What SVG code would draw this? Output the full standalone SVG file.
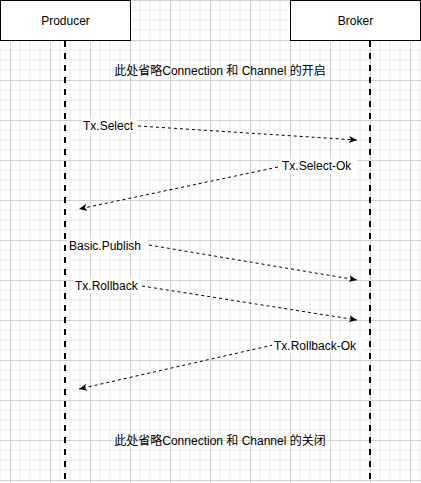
<svg xmlns="http://www.w3.org/2000/svg" width="421" height="483" viewBox="0 0 421 483">
  <style>
    text { font-family: "Liberation Sans", Arial, Helvetica, sans-serif; font-size: 12px; fill: #000; }
    .cjk { font-family: "Liberation Sans", "Noto Sans CJK SC", sans-serif; }
    .box { fill: #fff; stroke: #000; stroke-width: 1; }
    .life { stroke: #000; stroke-width: 2; stroke-dasharray: 6 6; fill: none; }
    .msg { stroke: #000; stroke-width: 1; stroke-dasharray: 3 3; fill: none; marker-end: url(#arrow); }
    .lblbg { fill: #fff; }
  </style>
  <defs>
    <pattern id="grid" patternUnits="userSpaceOnUse" x="10" y="0" width="40" height="40">
      <path d="M10 0V40M20 0V40M30 0V40M0 10H40M0 20H40M0 30H40" stroke="#ebebeb" stroke-width="1" fill="none"/>
      <path d="M0.5 0V40M0 0.5H40" stroke="#d0d0d0" stroke-width="1" fill="none"/>
    </pattern>
    <marker id="arrow" markerUnits="userSpaceOnUse" viewBox="0 0 8 8" refX="8" refY="4" markerWidth="8" markerHeight="8" orient="auto">
      <path d="M0 0.5L8 4L0 7.5L2 4Z" fill="#000" stroke="none"/>
    </marker>
  </defs>
  <rect x="0" y="0" width="421" height="483" fill="#fff"/>
  <rect x="0" y="0" width="421" height="483" fill="url(#grid)"/>

  <g id="lifelines">
    <line class="life" x1="65" y1="41" x2="65" y2="483"/>
    <line class="life" x1="370" y1="41" x2="370" y2="483"/>
  </g>

  <g id="producer">
    <rect class="box" x="0.5" y="0.5" width="130" height="40"/>
    <text x="65.5" y="25" text-anchor="middle">Producer</text>
  </g>
  <g id="broker">
    <rect class="box" x="290.5" y="0.5" width="130" height="40"/>
    <text x="355.5" y="25" text-anchor="middle">Broker</text>
  </g>

  <g id="note-open">
    <text class="cjk" x="220" y="75" text-anchor="middle">此处省略Connection 和 Channel 的开启</text>
  </g>
  <g id="note-close">
    <text class="cjk" x="220" y="445" text-anchor="middle">此处省略Connection 和 Channel 的关闭</text>
  </g>

  <g id="connectors">
    <line class="msg" x1="138" y1="126" x2="357" y2="140"/>
    <line class="msg" x1="278" y1="167" x2="79" y2="209"/>
    <line class="msg" x1="149" y1="245" x2="357" y2="280"/>
    <line class="msg" x1="142" y1="286" x2="357" y2="320"/>
    <line class="msg" x1="273" y1="345" x2="79" y2="389"/>
  </g>

  <g id="label-tx-select">
    <rect class="lblbg" x="81" y="119" width="56" height="14"/>
    <text x="83" y="130">Tx.Select</text>
  </g>
  <g id="label-tx-select-ok">
    <rect class="lblbg" x="280" y="159" width="77" height="14"/>
    <text x="282" y="170">Tx.Select-Ok</text>
  </g>
  <g id="label-basic-publish">
    <rect class="lblbg" x="67" y="239" width="81" height="14"/>
    <text x="69" y="250">Basic.Publish</text>
  </g>
  <g id="label-tx-rollback">
    <rect class="lblbg" x="73" y="279" width="69" height="14"/>
    <text x="75" y="290">Tx.Rollback</text>
  </g>
  <g id="label-tx-rollback-ok">
    <rect class="lblbg" x="272" y="339" width="91" height="14"/>
    <text x="274" y="350">Tx.Rollback-Ok</text>
  </g>
</svg>
